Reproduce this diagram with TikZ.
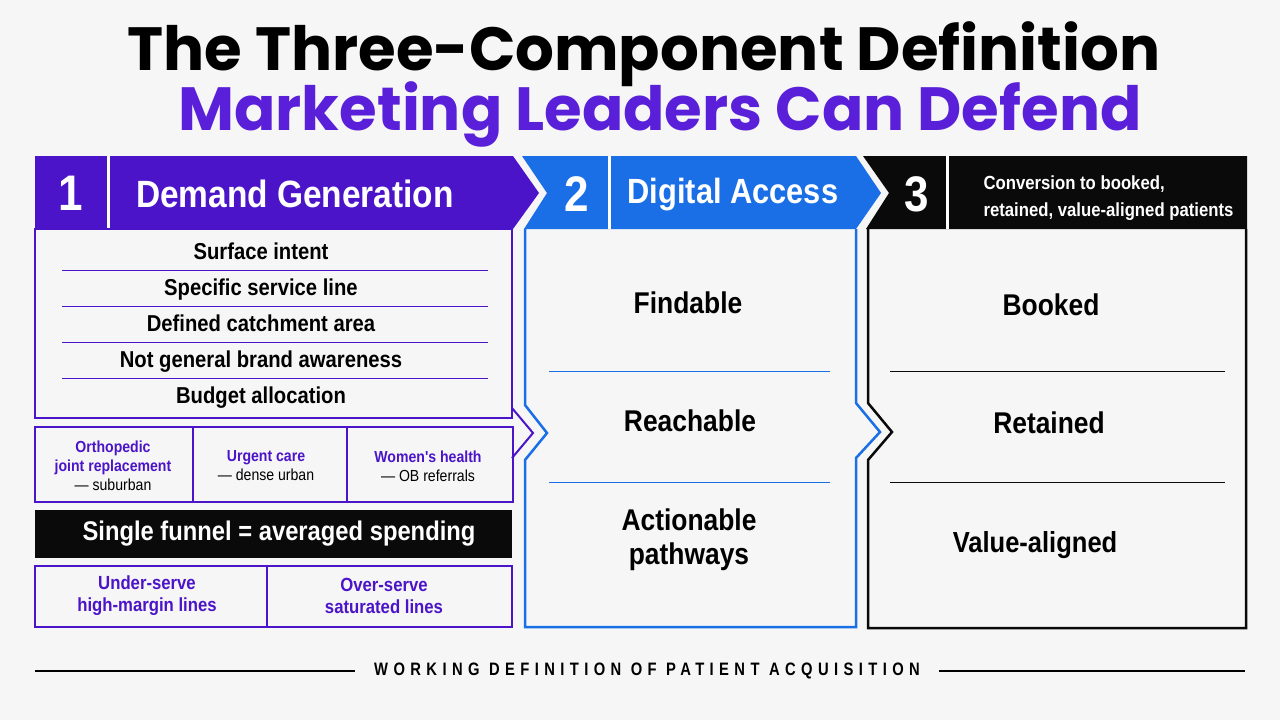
\documentclass[tikz,border=0pt]{standalone}
\usepackage{fontspec}
\setmainfont{Liberation Sans}
\newfontfamily\condfont{Liberation Sans}[FakeStretch=0.88]
\newfontfamily\titlefont{Poppins}
\newfontfamily\spacedfont{Liberation Sans}[FakeStretch=0.82,LetterSpace=30]
\usetikzlibrary{positioning,calc}
\definecolor{dgpurple}{HTML}{4B14C8}
\definecolor{ttlpurple}{HTML}{5A1FD8}
\definecolor{dablue}{HTML}{1A6FE6}
\definecolor{convblack}{HTML}{0A0A0A}
\definecolor{pagebg}{HTML}{F6F6F6}
\tikzset{
  hdrnum/.style={
    text=white,
    font=\condfont\bfseries\fontsize{50}{50}\selectfont
  },
  hdrtitle/.style={
    text=white,
    font=\condfont\bfseries\fontsize{35}{35}\selectfont
  },
  dgitem/.style={
    font=\condfont\bfseries\fontsize{23}{23}\selectfont,
    text height=0.72em,
    text depth=0.2em
  },
  bigitem/.style={
    font=\condfont\bfseries\fontsize{30}{34}\selectfont,
    align=center
  },
  cellnote/.style={
    font=\condfont\fontsize{16}{19}\selectfont,
    align=center
  },
  splitnote/.style={
    font=\condfont\bfseries\fontsize{19}{22}\selectfont,
    text=dgpurple,
    align=center
  },
  sepline/.style={
    line width=1pt
  },
  panelline/.style={
    line width=2.5pt,
    line join=miter
  }
}

\begin{document}
\begin{tikzpicture}[x=1pt,y=-1pt]
  \useasboundingbox[fill=pagebg] (0,0) rectangle (1280,720);

  % Title
  \node[font=\titlefont\bfseries\fontsize{61}{61}\selectfont] (title1) at (644,54) {The Three-Component Definition};
  \node[font=\titlefont\bfseries\fontsize{61}{61}\selectfont, text=ttlpurple] (title2) at (660,114) {Marketing Leaders Can Defend};

  % Panel 1 header
  \fill[dgpurple] (35,156) -- (513,156) -- (539,193) -- (513,229) -- (35,229) -- cycle;
  \draw[white, line width=3pt] (108,156) -- (108,229);
  \node[hdrnum] (n1) at (71,193) {1};
  \node[hdrtitle, font=\condfont\bfseries\fontsize{38}{38}\selectfont] (h1) at (295,194) {Demand Generation};

  % Panel 2 header
  \fill[dablue] (522,156) -- (856,156) -- (881,193) -- (856,229) -- (524,229) -- (547,193) -- cycle;
  \draw[white, line width=3pt] (609,156) -- (609,229);
  \node[hdrnum] (n2) at (577,194) {2};
  \node[hdrtitle] (h2) at (733,195) {Digital Access};

  % Panel 3 header
  \fill[convblack] (863,156) -- (1247,156) -- (1247,229) -- (866,229) -- (889,193) -- cycle;
  \draw[white, line width=3pt] (947,156) -- (947,229);
  \node[hdrnum] (n3) at (917,194) {3};
  \node[font=\condfont\bfseries\fontsize{19}{27}\selectfont, text=white, align=left, anchor=west] (h3) at (980,198) {Conversion to booked,\\retained, value-aligned patients};

  % Panel 1 body
  \draw[dgpurple, line width=2pt] (35,229) rectangle (512,418);
  \draw[dgpurple, line width=2pt] (512,408) -- (533,433) -- (512,458);
  \foreach \yy in {270,306,342,378}
    \draw[dgpurple, sepline] (62,\yy) -- (488,\yy);
  \node[dgitem] (s1) at (261,257) {Surface intent};
  \node[dgitem] (s2) at (261,293) {Specific service line};
  \node[dgitem] (s3) at (261,329) {Defined catchment area};
  \node[dgitem] (s4) at (261,365) {Not general brand awareness};
  \node[dgitem] (s5) at (261,401) {Budget allocation};

  % Service line table
  \draw[dgpurple, line width=2pt] (35,427) rectangle (513,502);
  \draw[dgpurple, line width=2pt] (193,427) -- (193,502) (347,427) -- (347,502);
  \node[cellnote] (c1) at (113,466) {\textcolor{dgpurple}{\bfseries Orthopedic}\\\textcolor{dgpurple}{\bfseries joint replacement}\\\textemdash{} suburban};
  \node[cellnote] (c2) at (266,466) {\textcolor{dgpurple}{\bfseries Urgent care}\\\textemdash{} dense urban};
  \node[cellnote] (c3) at (428,466) {\textcolor{dgpurple}{\bfseries Women's health}\\\textemdash{} OB referrals};

  % Averaged spending bar
  \fill[convblack] (35,510) rectangle (512,558);
  \node[font=\condfont\bfseries\fontsize{27}{27}\selectfont, text=white] (funnel) at (279,534) {Single funnel = averaged spending};

  % Under / over serve
  \draw[dgpurple, line width=2pt] (35,566) rectangle (512,627);
  \draw[dgpurple, line width=2pt] (267,566) -- (267,627);
  \node[splitnote] (u1) at (147,596) {Under-serve\\high-margin lines};
  \node[splitnote] (u2) at (384,596) {Over-serve\\saturated lines};

  % Panel 2 body
  \draw[dablue, panelline] (525,229) -- (525,405) -- (547,433) -- (525,460) -- (525,627) -- (856,627) -- (856,458) -- (880,432) -- (856,403) -- (856,229);
  \foreach \yy in {371,482}
    \draw[dablue, sepline] (549,\yy) -- (830,\yy);
  \node[bigitem] (d1) at (688,303) {Findable};
  \node[bigitem] (d2) at (690,421) {Reachable};
  \node[bigitem] (d3) at (689,540) {Actionable\\pathways};

  % Panel 3 body
  \draw[convblack, panelline] (868,229) -- (868,403) -- (892,432) -- (868,460) -- (868,628) -- (1246,628) -- (1246,229);
  \foreach \yy in {371,482}
    \draw[convblack, sepline] (890,\yy) -- (1225,\yy);
  \node[bigitem] (b1) at (1051,305) {Booked};
  \node[bigitem] (b2) at (1049,423) {Retained};
  \node[bigitem, font=\condfont\bfseries\fontsize{29}{34}\selectfont] (b3) at (1035,545) {Value-aligned};

  % Footer
  \node[font=\spacedfont\bfseries\fontsize{18}{18}\selectfont] (foot) at (647,671) {WORKING DEFINITION OF PATIENT ACQUISITION};
  \draw[line width=1.5pt] (35,671) -- ([xshift=-16pt]foot.west);
  \draw[line width=1.5pt] ([xshift=16pt]foot.east) -- (1245,671);
\end{tikzpicture}
\end{document}
